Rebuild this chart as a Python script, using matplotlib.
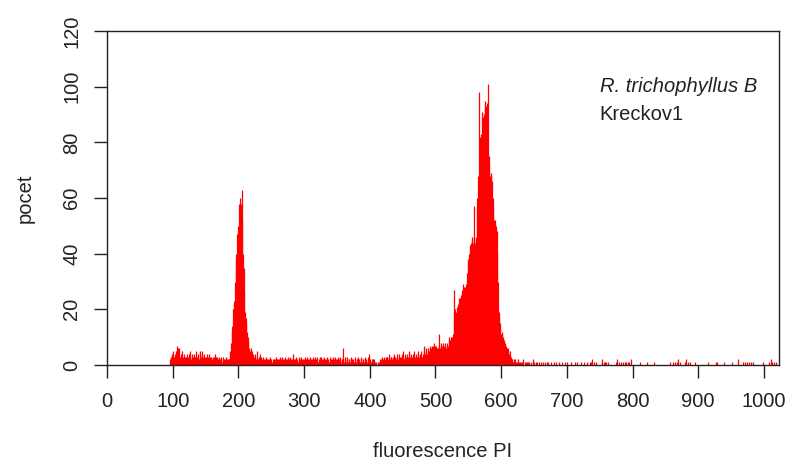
import matplotlib
matplotlib.use("Agg")
import matplotlib.pyplot as plt
import numpy as np

plt.rcParams['font.family'] = ['Liberation Sans', 'DejaVu Sans']

# ---- data: counts per fluorescence channel (0..1023) ----
n_channels = 1024
first_channel = 96

counts_096_189 = [2,3,3,4,2,5,3,4,3,5,
                  7,4,6,3,6,3,4,2,5,3,
                  2,4,3,2,3,3,4,3,2,4,
                  3,5,2,3,4,3,2,4,3,2,
                  5,3,4,3,2,4,5,3,4,5,
                  3,2,4,3,2,3,4,3,2,4,
                  3,3,2,3,2,3,2,3,4,2,
                  3,2,3,2,1,3,2,3,2,1,
                  2,3,2,1,2,3,2,1,2,2,
                  2,3,5,8]

counts_190_224 = [12,14,20,23,22,30,38,40,47,50,
                  48,58,60,55,58,63,52,40,35,26,
                  19,17,15,12,10,8,6,5,4,6,
                  3,5,4,2,3]

counts_225_479 = [3,4,2,3,5,2,3,2,4,2,
                  3,2,1,3,2,2,1,3,2,1,
                  2,1,2,3,1,2,1,2,1,2,
                  1,2,3,1,2,1,2,2,1,3,
                  2,1,3,2,2,1,3,2,1,2,
                  3,2,2,1,3,2,1,2,4,2,
                  1,2,2,3,1,2,1,3,2,2,
                  1,3,2,1,2,2,3,1,2,1,
                  3,2,1,2,3,2,1,2,3,1,
                  2,1,3,2,2,3,1,2,1,3,
                  2,3,1,2,2,1,3,2,1,2,
                  3,1,2,1,3,2,2,1,2,3,
                  1,2,3,2,1,2,3,1,2,2,
                  3,1,2,2,6,2,1,3,2,1,
                  2,3,1,2,2,1,3,2,2,1,
                  2,1,3,2,1,2,2,3,1,2,
                  1,2,3,1,2,2,1,2,3,1,
                  2,1,2,3,4,1,2,1,2,1,
                  2,1,2,1,1,0,0,1,0,1,
                  2,1,2,3,1,2,3,2,2,3,
                  2,3,3,2,4,3,2,3,3,2,
                  3,2,4,3,3,2,3,4,2,3,
                  4,3,2,3,4,3,5,2,3,4,
                  3,4,2,3,5,3,2,3,4,3,
                  2,4,3,5,3,4,2,3,4,5,
                  3,4,3,5,3]

counts_480_619 = [3,4,7,5,4,6,5,4,5,6,
                  5,6,7,6,7,5,7,6,8,7,
                  6,7,6,5,6,11,7,6,8,7,
                  7,8,6,7,8,7,6,7,8,7,
                  9,10,9,10,8,10,9,11,27,19,
                  20,18,19,21,19,22,24,23,24,25,
                  26,27,29,28,27,28,27,29,33,37,
                  38,40,41,43,44,46,45,44,57,46,
                  44,46,45,56,60,68,67,98,82,81,
                  83,91,88,89,90,93,95,93,94,92,
                  101,75,72,68,69,68,66,60,56,52,
                  52,51,50,48,41,30,19,17,15,13,
                  11,12,11,10,9,7,8,7,6,6,
                  5,6,4,5,3,3,2,2,1,2]

tail_channels = [620,621,623,624,626,627,629,631,632,634,636,638,640,641,643,
                 646,648,650,653,655,658,661,664,667,670,672,676,680,683,688,
                 692,697,701,706,712,716,721,726,731,735,737,739,741,744,753,
                 754,756,758,760,763,775,777,779,782,785,788,790,793,795,797,
                 811,822,832,857,861,864,867,870,872,880,882,885,887,895,915,
                 927,929,940,952,961,968,972,975,978,981,983,998,1008,1011,1013,
                 1016,1018]
tail_counts = [1,2,1,1,2,1,1,1,1,2,1,1,1,1,1,
               1,2,1,1,1,1,1,1,1,1,1,1,1,1,1,
               1,1,1,1,1,1,1,1,1,1,1,2,1,1,1,
               2,1,1,1,1,1,2,1,1,1,1,1,1,1,2,
               1,1,1,1,1,1,1,2,1,1,2,1,1,1,1,
               1,1,1,1,2,1,1,1,1,1,1,1,1,2,1,
               1,1]

x_ticks = [0, 100, 200, 300, 400, 500, 600, 700, 800, 900, 1000]
y_ticks = [0, 20, 40, 60, 80, 100, 120]

# ---- assemble ----
counts = np.zeros(n_channels)
dense = counts_096_189 + counts_190_224 + counts_225_479 + counts_480_619
counts[first_channel:first_channel + len(dense)] = dense
counts[tail_channels] = tail_counts
channels = np.arange(n_channels)

fig = plt.figure(figsize=(7.9, 4.61), dpi=100)
ax = fig.add_axes([107/790, 1 - 365/461, (779-107)/790, (365-31)/461])

mask = counts > 0
ax.vlines(channels[mask], 0, counts[mask], color='#ff0000', linewidth=0.9)

ax.set_xlim(0, 1023)
ax.set_ylim(0, 120)
ax.set_xticks(x_ticks)
ax.set_yticks(y_ticks)
for s in ax.spines.values():
    s.set_linewidth(1.0)
    s.set_color('#222222')
ax.tick_params(axis='both', direction='out', length=9.5, width=1.0,
               labelsize=14.5, colors='#222222')
ax.tick_params(axis='x', pad=10)
ax.tick_params(axis='y', pad=9)
for lab in ax.get_yticklabels():
    lab.set_rotation(90)
    lab.set_va('center')

ax.set_xlabel('fluorescence PI', fontsize=14.5, labelpad=22, color='#222222')
ax.set_ylabel('pocet', fontsize=14.5, labelpad=20, color='#222222')

ax.text(750, 100, 'R. trichophyllus B', fontsize=14.5, style='italic',
        ha='left', va='center', color='#222222')
ax.text(750, 90, 'Kreckov1', fontsize=14.5, ha='left', va='center',
        color='#222222')

fig.savefig('out.png', dpi=100)
